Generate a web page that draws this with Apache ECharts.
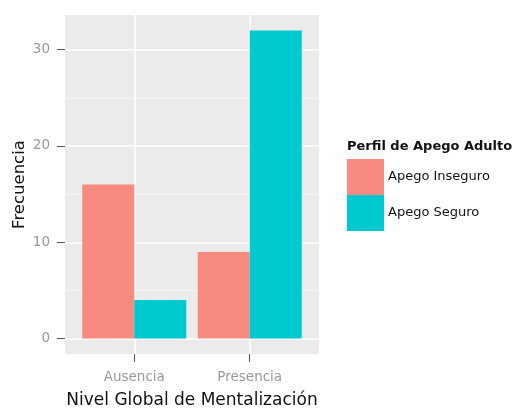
<!DOCTYPE html>
<html>
<head>
    <meta charset="utf-8" />
    <title>Frecuencia</title>
    <script src="https://cdn.jsdelivr.net/npm/echarts@6/dist/echarts.min.js"></script>
    <style>
        body { margin: 0; background: #fff; }
        #main { width: 521px; height: 410px; }
    </style>
</head>
<body>
    <div id="main"></div>
    <script type="text/javascript">
        // datos
        var categorias = ['Ausencia', 'Presencia'];
        var grupos = ['Apego Inseguro', 'Apego Seguro'];
        var inseguro = [16, 9];
        var seguro = [4, 32];
        var yTicks = [0, 10, 20, 30];
        var yMinor = [5, 15, 25];

        var colores = ['#F98A7F', '#00C9D0'];
        var fuente = '"DejaVu Sans", "Noto Sans", sans-serif';

        function pares(vals) {
            return vals.map(function (v, i) { return [i + 1, v]; });
        }

        var myChart = echarts.init(document.getElementById('main'));
        var option = {
            animation: false,
            color: colores,
            textStyle: { fontFamily: fuente },
            title: {
                text: 'Perfil de Apego Adulto',
                left: 347,
                top: 140,
                padding: 0,
                textStyle: { fontSize: 13, fontWeight: 'bold', color: '#111', fontFamily: fuente }
            },
            legend: {
                orient: 'vertical',
                left: 347,
                top: 159,
                padding: 0,
                itemWidth: 37,
                itemHeight: 36,
                itemGap: 0,
                icon: 'rect',
                data: grupos,
                textStyle: { fontSize: 13, color: '#111', padding: [0, 0, 0, -1] }
            },
            grid: {
                left: 65,
                top: 15,
                width: 254,
                height: 339,
                outerBoundsMode: 'none',
                show: true,
                backgroundColor: '#EBEBEB',
                borderWidth: 0
            },
            xAxis: {
                type: 'value',
                min: 0.4,
                max: 2.6,
                name: 'Nivel Global de Mentalización',
                nameLocation: 'middle',
                nameGap: 38,
                nameTextStyle: { fontSize: 17, color: '#111' },
                axisLine: { show: false, onZero: false },
                axisTick: {
                    show: true,
                    customValues: [1, 2],
                    length: 8,
                    lineStyle: { color: '#555', width: 1 }
                },
                axisLabel: {
                    customValues: [1, 2],
                    margin: 16,
                    fontSize: 13.5,
                    color: '#999',
                    formatter: function (v) { return categorias[Math.round(v) - 1]; }
                },
                splitLine: { show: true, lineStyle: { color: '#fff', width: 1.5 } }
            },
            yAxis: [{
                type: 'value',
                min: -1.6,
                max: 33.6,
                name: 'Frecuencia',
                nameLocation: 'middle',
                nameGap: 37,
                nameRotate: 90,
                nameTextStyle: { fontSize: 16.5, color: '#111' },
                axisLine: { show: false, onZero: false },
                axisTick: {
                    show: true,
                    customValues: yTicks,
                    length: 8,
                    lineStyle: { color: '#555', width: 1 }
                },
                axisLabel: {
                    customValues: yTicks,
                    margin: 15,
                    fontSize: 13.5,
                    color: '#999'
                },
                splitLine: { show: true, lineStyle: { color: '#fff', width: 1.5 } }
            }, {
                type: 'value',
                min: -1.6,
                max: 33.6,
                position: 'left',
                axisLine: { show: false, onZero: false },
                axisTick: { show: false, customValues: yMinor },
                axisLabel: { show: false, customValues: yMinor },
                splitLine: { show: true, lineStyle: { color: '#F5F5F5', width: 1 } }
            }],
            series: [{
                name: grupos[0],
                type: 'bar',
                barWidth: 52,
                barGap: '0%',
                data: pares(inseguro)
            }, {
                name: grupos[1],
                type: 'bar',
                barWidth: 52,
                barGap: '0%',
                data: pares(seguro)
            }]
        };
        myChart.setOption(option);
    </script>
</body>
</html>
